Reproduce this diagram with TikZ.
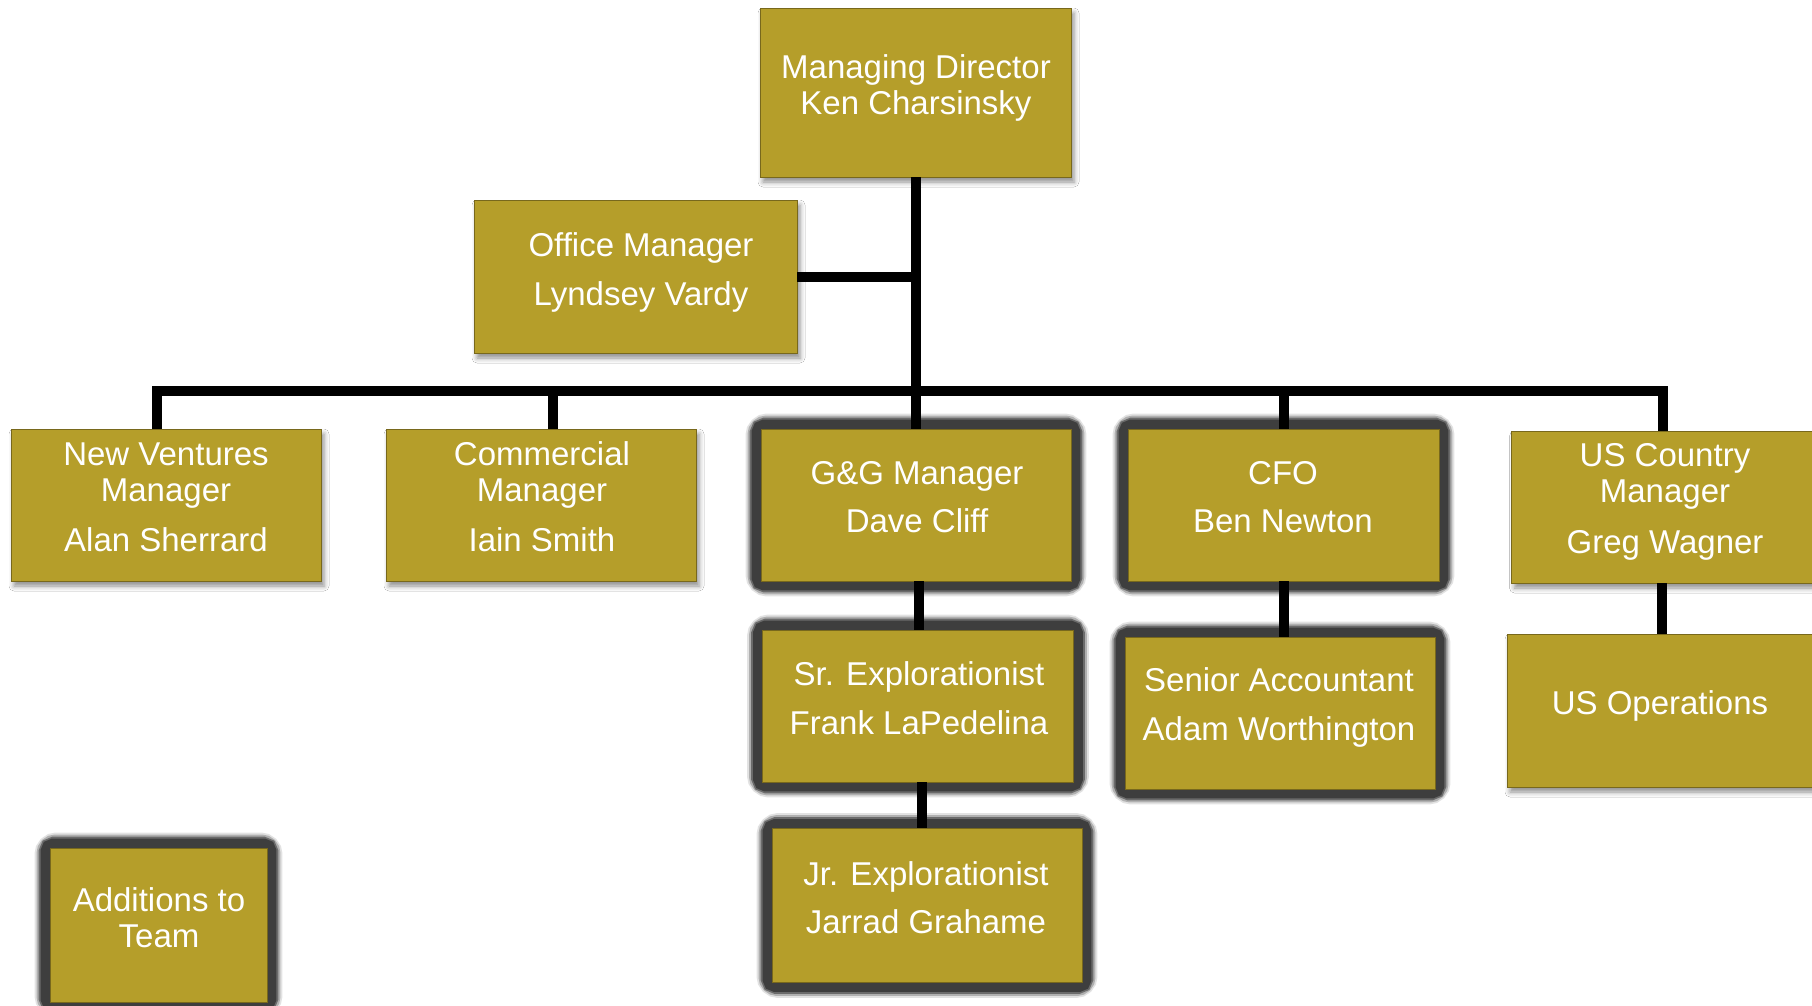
\documentclass[tikz,border=0pt]{standalone}
\usepackage{fontspec}
\setmainfont{Liberation Sans}
\usetikzlibrary{shadows.blur,backgrounds,calc}
\definecolor{gold}{RGB}{181,158,42}
\definecolor{goldedge}{RGB}{120,104,28}
\definecolor{glowgray}{RGB}{62,62,62}
\newcommand\glowaround[1]{%
  \draw[glowA] (#1.north west) rectangle (#1.south east);
  \draw[glowB] (#1.north west) rectangle (#1.south east);
  \draw[glowC] (#1.north west) rectangle (#1.south east);
  \draw[glowD] (#1.north west) rectangle (#1.south east);}
\begin{document}
\begin{tikzpicture}[x=1pt,y=-1pt,
  box/.style={fill=gold, draw=goldedge, line width=0.8pt, inner sep=0pt},
  shadowbox/.style={box, blur shadow={shadow xshift=3pt, shadow yshift=-5pt, shadow blur radius=5pt, shadow opacity=45}},
  lbl/.style={text=white, align=center, font=\fontsize{33}{36}\selectfont},
  conn/.style={draw=black, line width=10pt, line join=miter},
  glowA/.style={draw=glowgray, line width=30pt, rounded corners=7pt, opacity=0.15},
  glowB/.style={draw=glowgray, line width=26pt, rounded corners=6pt, opacity=0.3},
  glowC/.style={draw=glowgray, line width=22pt, rounded corners=5pt, opacity=0.6},
  glowD/.style={draw=glowgray, line width=18pt, rounded corners=4pt}]
\useasboundingbox (0,0) rectangle (1812,1005);
% boxes
\node[shadowbox, minimum width=311pt, minimum height=169pt] (md) at (915.5,92.5) {};
\node[shadowbox, minimum width=323pt, minimum height=153pt] (office) at (635.5,276.5) {};
\node[shadowbox, minimum width=310pt, minimum height=152pt] (nv) at (166,505) {};
\node[shadowbox, minimum width=310pt, minimum height=152pt] (com) at (541,505) {};
\node[box, minimum width=310pt, minimum height=152pt] (gg) at (916,505) {};
\node[box, minimum width=311pt, minimum height=152pt] (cfo) at (1283.5,505) {};
\node[shadowbox, minimum width=310pt, minimum height=152pt] (us) at (1666.5,507) {};
\node[box, minimum width=311pt, minimum height=152pt] (sr) at (918,706) {};
\node[box, minimum width=310pt, minimum height=154pt] (jr) at (927,905.5) {};
\node[box, minimum width=310pt, minimum height=152pt] (sa) at (1280,713) {};
\node[shadowbox, minimum width=310pt, minimum height=153pt] (ops) at (1662,710.5) {};
\node[box, minimum width=217pt, minimum height=154pt] (add) at (158.5,925) {};
% glows
\begin{scope}[on background layer]
  \fill[white] (0,0) rectangle (1812,1005);
  \glowaround{gg}
  \glowaround{cfo}
  \glowaround{sr}
  \glowaround{jr}
  \glowaround{sa}
  \glowaround{add}
\end{scope}
% labels
\node[lbl] (mdt) at (916,88) {Managing Director\\Ken Charsinsky};
\node[lbl] (officet) at (641,272) {Office Manager\\[13pt]Lyndsey Vardy};
\node[lbl] (nvt) at (166,497) {New Ventures\\Manager\\[14pt]Alan Sherrard};
\node[lbl] (comt) at (542,497) {Commercial\\Manager\\[14pt]Iain Smith};
\node[lbl] (ggt) at (917,497) {G\&G Manager\\[12pt]Dave Cliff};
\node[lbl] (cfot) at (1283,497) {CFO\\[12pt]Ben Newton};
\node[lbl] (ust) at (1665,501.5) {US Country\\Manager\\[15pt]Greg Wagner};
\node[lbl] (srt) at (919,698.5) {Sr. Explorationist\\[13pt]Frank LaPedelina};
\node[lbl] (sat) at (1279,707) {Senior Accountant\\[13pt]Adam Worthington};
\node[lbl] (jrt) at (926,898) {Jr. Explorationist\\[12pt]Jarrad Grahame};
\node[lbl] (opst) at (1660,706) {US Operations};
\node[lbl] (addt) at (159,917.5) {Additions to\\Team};
% connectors
\coordinate (bar) at (0,391);
\draw[conn] (md.south) -- (md.south |- gg.north);
\draw[conn] (office.east) -- (office.east -| md.south);
\draw[conn] ([xshift=-9pt]nv.north) -- ([xshift=-9pt]nv.north |- bar) -- ([xshift=-4pt]us.north |- bar) -- ([xshift=-4pt]us.north);
\draw[conn] ([xshift=12pt]com.north) -- ([xshift=12pt]com.north |- bar);
\draw[conn] (cfo.north) -- (cfo.north |- bar);
\draw[conn] ([xshift=3pt]gg.south) -- ([xshift=3pt]gg.south |- sr.north);
\draw[conn] ([xshift=4pt]sr.south) -- ([xshift=4pt]sr.south |- jr.north);
\draw[conn] (cfo.south) -- (cfo.south |- sa.north);
\draw[conn] (ops.north) -- (ops.north |- us.south);
\end{tikzpicture}
\end{document}
